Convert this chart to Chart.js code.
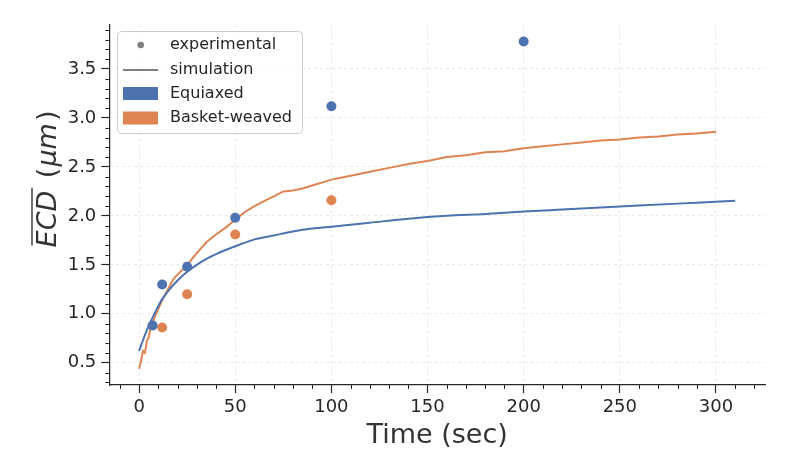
<!DOCTYPE html>
<html>
<head>
<meta charset="utf-8">
<script src="https://cdn.jsdelivr.net/npm/chart.js@4.4.1/dist/chart.umd.min.js"></script>
<style>
html,body{margin:0;padding:0;background:#fff;}
#wrap{width:789px;height:473px;}
</style>
</head>
<body>
<div id="wrap"><canvas id="c" width="789" height="473"></canvas></div>
<script>
// ---- data ----
const simTimeEquiaxed = [0, 2, 4, 6, 8, 10, 12, 15, 20, 25, 30, 35, 40, 50, 60, 70, 80, 90, 100, 120, 140, 160, 180, 200, 220, 240, 260, 280, 300, 310];
const simEquiaxed = [0.62, 0.73, 0.83, 0.92, 1.00, 1.08, 1.15, 1.23, 1.34, 1.43, 1.50, 1.56, 1.61, 1.69, 1.76, 1.80, 1.84, 1.87, 1.89, 1.93, 1.97, 2.00, 2.02, 2.045, 2.065, 2.085, 2.105, 2.125, 2.145, 2.155];
const simTimeBasket = [0, 1, 2, 3, 4, 5, 6, 8, 10, 12, 15, 18, 21, 25, 30, 35, 40, 45, 50, 55, 60, 65, 70, 75, 80, 85, 90, 100, 110, 120, 130, 140, 150, 160, 170, 180, 190, 200, 210, 220, 230, 240, 250, 260, 270, 280, 290, 300];
const simBasket = [0.44, 0.52, 0.62, 0.60, 0.72, 0.76, 0.86, 0.96, 1.05, 1.14, 1.25, 1.36, 1.42, 1.50, 1.62, 1.73, 1.81, 1.88, 1.96, 2.04, 2.10, 2.15, 2.20, 2.25, 2.26, 2.28, 2.31, 2.37, 2.41, 2.45, 2.49, 2.53, 2.56, 2.60, 2.62, 2.65, 2.66, 2.69, 2.71, 2.73, 2.75, 2.77, 2.78, 2.80, 2.81, 2.83, 2.84, 2.86];
const expTimeEquiaxed = [7, 12, 25, 50, 100, 200];
const expEquiaxed = [0.88, 1.30, 1.48, 1.98, 3.12, 3.78];
const expTimeBasket = [12, 25, 50, 100];
const expBasket = [0.86, 1.20, 1.81, 2.16];
const xTickValues = [0, 50, 100, 150, 200, 250, 300];
const yTickValues = [0.5, 1.0, 1.5, 2.0, 2.5, 3.0, 3.5];
const legendLabels = ['experimental', 'simulation', 'Equiaxed', 'Basket-weaved'];
const xTitle = 'Time (sec)';

const BLUE = '#4c72b0', ORANGE = '#dd8452', GREY = '#808080', INK = '#262626';

function pts(xs, ys){ return xs.map((x,i)=>({x:x, y:ys[i]})); }

Chart.defaults.font.family = "'DejaVu Sans', sans-serif";
Chart.defaults.color = INK;

const decor = {
  id: 'decor',
  afterDraw(chart){
    const ctx = chart.ctx;
    const xs = chart.scales.x, ys = chart.scales.y;
    const area = chart.chartArea;
    ctx.save();
    // minor ticks
    ctx.strokeStyle = INK; ctx.lineWidth = 1;
    ctx.beginPath();
    for (let v = -10; v <= 320; v += 10){
      if (v % 50 === 0) continue;
      const px = Math.round(xs.getPixelForValue(v)) + 0.5;
      ctx.moveTo(px, area.bottom); ctx.lineTo(px, area.bottom + 4);
    }
    for (let k = 3; k <= 39; k++){
      if (k % 5 === 0) continue;
      const py = Math.round(ys.getPixelForValue(k/10)) + 0.5;
      ctx.moveTo(area.left, py); ctx.lineTo(area.left - 4, py);
    }
    ctx.stroke();

    // x title
    ctx.fillStyle = '#333';
    ctx.font = "27px 'DejaVu Sans'";
    ctx.textAlign = 'center'; ctx.textBaseline = 'middle';
    ctx.fillText(xTitle, (area.left + area.right)/2, 436);

    // y title (rotated, with overline on ECD)
    ctx.save();
    ctx.translate(46, 179);
    ctx.rotate(-Math.PI/2);
    ctx.textBaseline = 'alphabetic'; ctx.textAlign = 'left';
    const fi = "italic 27px 'DejaVu Sans'", fr = "27px 'DejaVu Sans'";
    const parts = [['ECD', fi, 0], [' (', fr, 4], ['\u03bcm', fi, 1], [')', fr, 2]];
    let total = 0;
    parts.forEach(p => { ctx.font = p[1]; p.w = ctx.measureText(p[0]).width; total += p.w + p[2]; });
    let x0 = -total/2;
    const base = 10;
    let ecdStart = x0, ecdW = parts[0].w;
    parts.forEach(p => { x0 += p[2]; ctx.font = p[1]; ctx.fillText(p[0], x0, base); x0 += p.w; });
    ctx.strokeStyle = '#333'; ctx.lineWidth = 1.4;
    ctx.beginPath(); ctx.moveTo(ecdStart + 2, base - 24); ctx.lineTo(ecdStart + ecdW + 3, base - 24); ctx.stroke();
    ctx.restore();

    // legend
    const lx = 117.5, ly = 31.5, lw = 185, lh = 102;
    ctx.beginPath();
    if (ctx.roundRect) ctx.roundRect(lx, ly, lw, lh, 4); else ctx.rect(lx, ly, lw, lh);
    ctx.fillStyle = 'rgba(255,255,255,0.85)'; ctx.fill();
    ctx.strokeStyle = '#cccccc'; ctx.lineWidth = 1; ctx.stroke();
    const rows = [45, 70, 93.5, 118];
    ctx.fillStyle = GREY;
    ctx.beginPath(); ctx.arc(140.7, rows[0], 3.3, 0, Math.PI*2); ctx.fill();
    ctx.strokeStyle = GREY; ctx.lineWidth = 2;
    ctx.beginPath(); ctx.moveTo(123, rows[1]); ctx.lineTo(158, rows[1]); ctx.stroke();
    ctx.fillStyle = BLUE; ctx.fillRect(123, rows[2]-6.5, 35, 13);
    ctx.fillStyle = ORANGE; ctx.fillRect(123, rows[3]-6.5, 35, 13);
    ctx.fillStyle = INK; ctx.font = "16px 'DejaVu Sans'";
    ctx.textAlign = 'left'; ctx.textBaseline = 'middle';
    legendLabels.forEach((t,i) => ctx.fillText(t, 170, rows[i]));
    ctx.restore();
  }
};

new Chart(document.getElementById('c'), {
  type: 'scatter',
  data: {
    datasets: [
      { label: 'Equiaxed experimental', data: pts(expTimeEquiaxed, expEquiaxed), backgroundColor: BLUE, borderColor: BLUE, pointRadius: 5, pointBorderWidth: 0, showLine: false },
      { label: 'Basket-weaved experimental', data: pts(expTimeBasket, expBasket), backgroundColor: ORANGE, borderColor: ORANGE, pointRadius: 5, pointBorderWidth: 0, showLine: false },
      { label: 'Equiaxed simulation', data: pts(simTimeEquiaxed, simEquiaxed), borderColor: BLUE, backgroundColor: BLUE, borderWidth: 2, pointRadius: 0, showLine: true, cubicInterpolationMode: 'monotone' },
      { label: 'Basket-weaved simulation', data: pts(simTimeBasket, simBasket), borderColor: ORANGE, backgroundColor: ORANGE, borderWidth: 2, pointRadius: 0, showLine: true, tension: 0 }
    ]
  },
  options: {
    responsive: false,
    animation: false,
    layout: { padding: { left: 0, right: 24, top: 24.6, bottom: 0 } },
    plugins: { legend: { display: false }, tooltip: { enabled: false } },
    scales: {
      x: {
        type: 'linear', min: -15.5, max: 325.5,
        afterFit: s => { s.height = 88; },
        afterBuildTicks: s => { s.ticks = xTickValues.map(v => ({value: v})); },
        ticks: { font: { size: 18 }, color: INK, padding: 4, maxRotation: 0, includeBounds: false },
        grid: { color: '#e8e8e8', lineWidth: 1, drawTicks: true, tickLength: 8, tickColor: INK, tickWidth: 1.2, tickBorderDash: [] },
        border: { display: true, color: INK, width: 1.2, dash: [3, 3] }
      },
      y: {
        type: 'linear', min: 0.273, max: 3.953,
        afterFit: s => { s.width = 109.3; },
        afterBuildTicks: s => { s.ticks = yTickValues.map(v => ({value: v})); },
        ticks: { font: { size: 18 }, color: INK, padding: 5, callback: v => Number(v).toFixed(1), includeBounds: false },
        grid: { color: '#e8e8e8', lineWidth: 1, drawTicks: true, tickLength: 8, tickColor: INK, tickWidth: 1.2, tickBorderDash: [] },
        border: { display: true, color: INK, width: 1.2, dash: [3, 3] }
      }
    }
  },
  plugins: [decor]
});
</script>
</body>
</html>
